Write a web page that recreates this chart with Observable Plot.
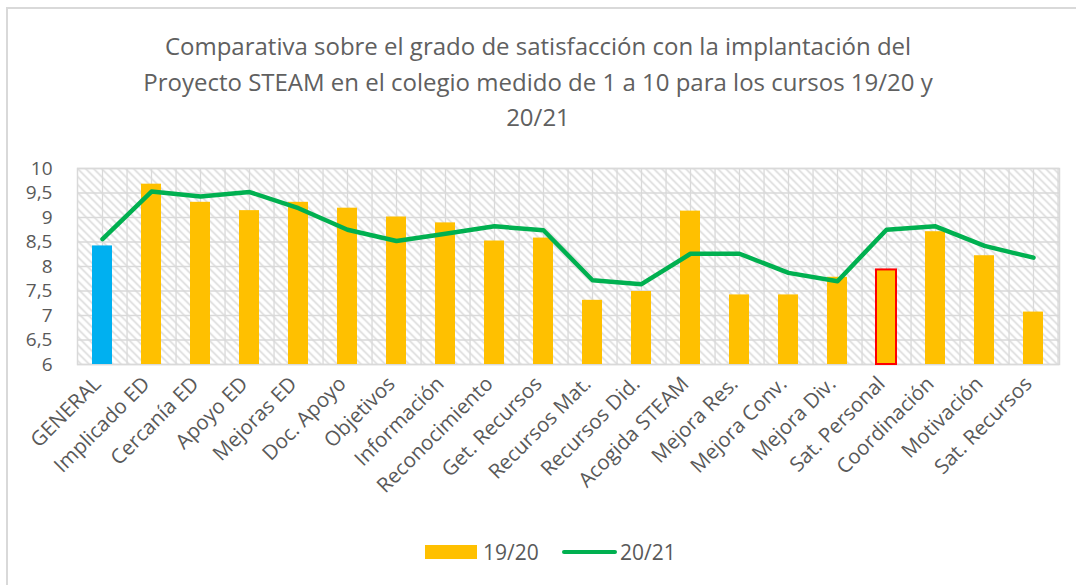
<!DOCTYPE html>
<html>
<head>
<meta charset="utf-8">
<script src="https://cdn.jsdelivr.net/npm/d3@7"></script>
<script src="https://cdn.jsdelivr.net/npm/@observablehq/plot@0.6"></script>
<style>
  html, body { margin: 0; padding: 0; background: #fff; width: 1076px; height: 585px; overflow: hidden; }
  body { position: relative; font-family: "Open Sans", sans-serif; color: #595959; }
  #frame { position: absolute; left: 6px; top: 7px; width: 1200px; height: 700px; border: 2px solid #d9d9d9; box-sizing: border-box; }
  #title { position: absolute; left: 0; top: 28px; width: 1076px; text-align: center; font-size: 24px; line-height: 35.5px; color: #606060; }
  #chart { position: absolute; left: 0; top: 140px; }
  #legend { position: absolute; top: 537px; left: 0; width: 1076px; height: 30px; font-size: 21px; color: #595959; }
  .sw { position: absolute; }
  .lt { position: absolute; line-height: 30px; top: 0; }
</style>
</head>
<body>
<div id="frame"></div>
<div id="title"></div>
<div id="chart"></div>
<div id="legend"></div>
<script>
const titleLines = [
  "Comparativa sobre el grado de satisfacción con la implantación del",
  "Proyecto STEAM en el colegio medido de 1 a 10 para los cursos 19/20 y",
  "20/21"
];
const categories = [
  "GENERAL", "Implicado ED", "Cercanía ED", "Apoyo ED", "Mejoras ED", "Doc. Apoyo",
  "Objetivos", "Información", "Reconocimiento", "Get. Recursos", "Recursos Mat.",
  "Recursos Did.", "Acogida STEAM", "Mejora Res.", "Mejora Conv.", "Mejora Div.",
  "Sat. Personal", "Coordinación", "Motivación", "Sat. Recursos"
];
const values1920 = [8.42, 9.68, 9.31, 9.14, 9.31, 9.19, 9.01, 8.89, 8.52, 8.58, 7.31, 7.49, 9.13, 7.42, 7.42, 7.78, 7.93, 8.71, 8.22, 7.07];
const values2021 = [8.56, 9.53, 9.43, 9.52, 9.19, 8.75, 8.52, 8.67, 8.82, 8.74, 7.72, 7.64, 8.26, 8.26, 7.87, 7.70, 8.75, 8.82, 8.42, 8.18];
const yTicks = [6, 6.5, 7, 7.5, 8, 8.5, 9, 9.5, 10];
const seriesNames = ["19/20", "20/21"];
const highlightBlue = "GENERAL";
const highlightOutline = "Sat. Personal";

const data = categories.map((c, i) => ({cat: c, v1: values1920[i], v2: values2021[i]}));

document.getElementById("title").innerHTML = titleLines.map(t => `<div>${t}</div>`).join("");

const W = 1076, H = 380;
const mL = 77, mR = 17, mT = 28, mB = 156;
const step = (W - mL - mR) / categories.length;

const plot = Plot.plot({
  width: W,
  height: H,
  marginLeft: mL,
  marginRight: mR,
  marginTop: mT,
  marginBottom: mB,
  style: {fontFamily: "Open Sans, sans-serif", fontSize: "18px", color: "#595959", background: "transparent", overflow: "visible"},
  x: {domain: categories, paddingInner: 0.59, paddingOuter: 0.295, label: null, axis: null},
  y: {domain: [yTicks[0], yTicks[yTicks.length - 1]], label: null},
  marks: [
    Plot.frame({fill: "url(#hatch)", stroke: "#d9d9d9", strokeWidth: 1.5}),
    Plot.ruleY(yTicks, {stroke: "#d9d9d9", strokeWidth: 1.3}),
    Plot.ruleX(categories, {x: d => d, stroke: "#d9d9d9", strokeWidth: 1.3}),
    Plot.ruleX(categories, {x: d => d, dx: step / 2, stroke: "#d9d9d9", strokeWidth: 1.3}),
    Plot.barY(data, {
      x: "cat", y1: yTicks[0], y2: "v1",
      fill: d => d.cat === highlightBlue ? "#00B0F0" : "#FFC000",
      stroke: d => d.cat === highlightOutline ? "#FF0000" : "none",
      strokeWidth: 2
    }),
    Plot.lineY(data, {x: "cat", y: "v2", stroke: "#00B050", strokeWidth: 4.5, strokeLinejoin: "round", strokeLinecap: "round"}),
    Plot.axisY({ticks: yTicks, tickSize: 0, tickPadding: 25, tickFormat: d => String(d).replace(".", ","), fontSize: 19}),
    Plot.text(categories, {
      x: d => d, text: d => d, frameAnchor: "bottom",
      rotate: -45, textAnchor: "end", lineAnchor: "middle",
      dx: -5, dy: 16, fontSize: 20.5, fill: "#595959"
    })
  ]
});

// hatch pattern for the plot area background
const svg = d3.select(plot);
const defs = svg.insert("defs", ":first-child");
const pat = defs.append("pattern")
  .attr("id", "hatch")
  .attr("patternUnits", "userSpaceOnUse")
  .attr("width", 8).attr("height", 8)
  .attr("x", mL).attr("y", mT);
pat.append("rect").attr("width", 8).attr("height", 8).attr("fill", "#ffffff");
pat.append("path").attr("d", "M-2,-2 L10,10 M-2,6 L2,10 M6,-2 L10,2").attr("stroke", "#d6d6d6").attr("stroke-width", 1.4);

document.getElementById("chart").appendChild(plot);

// legend
const legend = document.getElementById("legend");
legend.innerHTML = `
  <div class="sw" style="left:425px; top:8px; width:52px; height:14px; background:#FFC000;"></div>
  <div class="lt" style="left:483px;">${seriesNames[0]}</div>
  <div class="sw" style="left:562px; top:13px; width:55px; height:4px; border-radius:2px; background:#00B050;"></div>
  <div class="lt" style="left:620px;">${seriesNames[1]}</div>
`;
</script>
</body>
</html>
